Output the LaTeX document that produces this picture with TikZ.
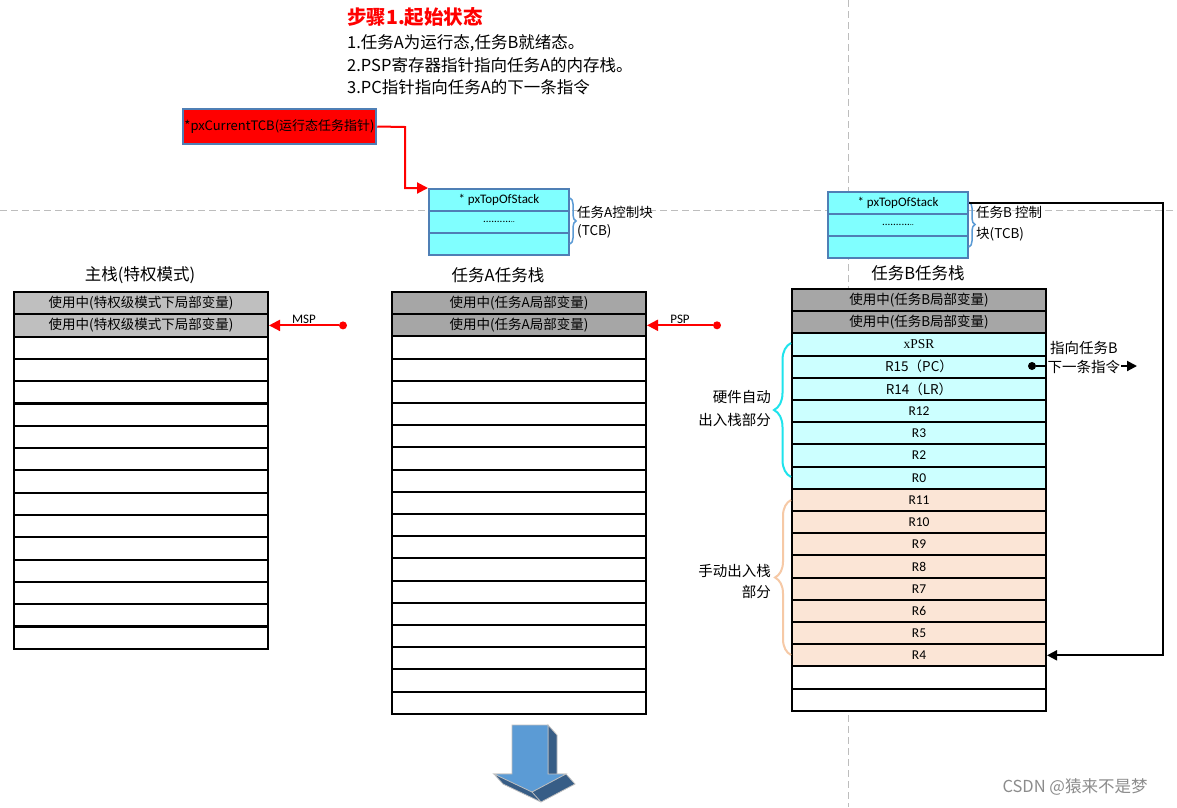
\documentclass[tikz,border=0pt]{standalone}
\usepackage{fontspec}
\setmainfont{Carlito}
\newfontfamily\cjk{Noto Sans CJK SC}
\newfontfamily\serifx{Liberation Serif}
\usetikzlibrary{arrows.meta,decorations.pathreplacing,calc}
\newcommand\myfs[1]{\fontsize{#1}{#1}\selectfont}
\definecolor{graymain}{HTML}{BFBFBF}
\definecolor{graydark}{HTML}{A6A6A6}
\definecolor{cyanrow}{HTML}{CCFFFF}
\definecolor{peachrow}{HTML}{FBE5D6}
\definecolor{tcbfill}{HTML}{80FFFF}
\definecolor{tcbline}{HTML}{4F7FB5}
\definecolor{bracecyan}{HTML}{1FE3EC}
\definecolor{bracepeach}{HTML}{F6C9A6}
\definecolor{bracetcb}{HTML}{5B9BD5}
\definecolor{dashgray}{HTML}{BDBDBD}
\definecolor{arrfront}{HTML}{5B9BD5}
\definecolor{arrdark}{HTML}{375D86}
\tikzset{
  cellbox/.style={draw=black, line width=2pt, minimum width=254pt, minimum height=22.2pt,
    inner sep=0pt, anchor=north west, font=\cjk\myfs{13.5}},
  tcbbox/.style={draw=tcbline, line width=2pt, fill=tcbfill, minimum width=140pt,
    minimum height=22pt, inner sep=0pt, anchor=north west, font=\myfs{13}},
  stacktitle/.style={inner sep=0pt, font=\cjk\myfs{16.5}},
  redarrow/.style={draw=red, line width=2pt, -{Triangle[length=11pt,width=11pt]}},
  blackarrow/.style={draw=black, line width=2pt, -{Triangle[length=10pt,width=10pt]}},
  dotnode/.style={circle, fill=#1, inner sep=0pt, minimum size=8pt},
  dashline/.style={draw=dashgray, line width=1pt, dash pattern=on 7pt off 4pt},
  bracestyle/.style={decorate, decoration={brace, amplitude=#1, aspect=0.5}}
}
\begin{document}
\begin{tikzpicture}[x=1pt,y=-1pt]
\useasboundingbox[fill=white] (0,0) rectangle (1177,807);
% guide lines
\draw[dashline] (0,210) -- (1177,210);
\draw[dashline] (848,0) -- (848,807);

% title
\node[inner sep=0pt, anchor=west, text=red, font=\cjk\bfseries\myfs{19.5}] (title) at (347,17) {步骤1.起始状态};
\node[inner sep=0pt, anchor=west, font=\cjk\myfs{16.5}] (l1) at (347,43) {1.任务A为运行态,任务B就绪态。};
\node[inner sep=0pt, anchor=west, font=\cjk\myfs{16.5}] (l2) at (347,65) {2.PSP寄存器指针指向任务A的内存栈。};
\node[inner sep=0pt, anchor=west, font=\cjk\myfs{16.5}] (l3) at (347,87) {3.PC指针指向任务A的下一条指令};

% current TCB pointer
\node[draw=tcbline, line width=2.5pt, fill=red, minimum width=193pt, minimum height=35pt,
  inner sep=0pt, font=\cjk\myfs{13}] (cur) at (279.5,126.5) {*pxCurrentTCB(运行态任务指针)};

% TCB A
\node[tcbbox] (ta1) at (428,188) {* pxTopOfStack};
\node[tcbbox] (ta2) at (428,210) {\myfs{11}..........{\myfs{8}..}};
\node[tcbbox] (ta3) at (428,232) {};
\draw[bracestyle=6pt, draw=bracetcb, line width=1.5pt] (570,198) -- (570,244);
\node[inner sep=0pt, anchor=west, align=left, font=\cjk\fontsize{13.5}{18}\selectfont] (talbl) at (577,222) {任务A控制块\\(TCB)};

% TCB B
\node[tcbbox] (tb1) at (827,191) {* pxTopOfStack};
\node[tcbbox] (tb2) at (827,213) {\myfs{11}..........{\myfs{8}..}};
\node[tcbbox] (tb3) at (827,235) {};
\draw[bracestyle=6pt, draw=bracetcb, line width=1.5pt] (969,202) -- (969,247);
\node[inner sep=0pt, anchor=west, align=left, font=\cjk\fontsize{13.5}{21}\selectfont] (tblbl) at (976,224) {任务B 控制\\块(TCB)};

% red pointer arrow
\coordinate (bend) at (405,127);
\draw[redarrow] (cur.east) -- (bend) |- (ta1.north west);

% stack titles
\node[stacktitle] (mtitle) at (140,275) {主栈(特权模式)};
\node[stacktitle] (atitle) at (498,275) {任务A任务栈};
\node[stacktitle] (btitle) at (918,273) {任务B任务栈};

% main stack
\node[cellbox, fill=graymain] (m1) at (13,291) {使用中(特权级模式下局部变量)};
\node[cellbox, fill=graymain] (m2) at (13,313.3) {使用中(特权级模式下局部变量)};
\foreach \i in {3,...,16} \node[cellbox, fill=white] (m\i) at (13,{291+(\i-1)*22.3}) {};

% task A stack
\node[cellbox, fill=graydark] (a1) at (391,291) {使用中(任务A局部变量)};
\node[cellbox, fill=graydark] (a2) at (391,313.2) {使用中(任务A局部变量)};
\foreach \i in {3,...,19} \node[cellbox, fill=white] (a\i) at (391,{291+(\i-1)*22.2}) {};

% task B stack
\node[cellbox, fill=graydark] (b1) at (791,288) {使用中(任务B局部变量)};
\node[cellbox, fill=graydark] (b2) at (791,310.2) {使用中(任务B局部变量)};
\foreach \i/\t in {3/{\serifx xPSR},4/{R15（PC）},5/{R14（LR）},6/{\rmfamily R12},7/{\rmfamily R3},8/{\rmfamily R2},9/{\rmfamily R0}}
  \node[cellbox, fill=cyanrow] (b\i) at (791,{288+(\i-1)*22.2}) {\t};
\foreach \i/\t in {10/R11,11/R10,12/R9,13/R8,14/R7,15/R6,16/R5,17/R4}
  \node[cellbox, fill=peachrow] (b\i) at (791,{288+(\i-1)*22.2}) {\rmfamily\t};
\foreach \i in {18,19} \node[cellbox, fill=white] (b\i) at (791,{288+(\i-1)*22.2}) {};

% MSP / PSP pointers
\node[dotnode=red] (mspdot) at ($(m2.east)+(74,0)$) {};
\draw[redarrow] (mspdot) -- (m2.east);
\node[inner sep=0pt, font=\myfs{13}] (msplbl) at (304,319) {MSP};
\node[dotnode=red] (pspdot) at ($(a2.east)+(70,0)$) {};
\draw[redarrow] (pspdot) -- (a2.east);
\node[inner sep=0pt, font=\myfs{13}] (psplbl) at (680,319) {PSP};

% braces for task B stack
\draw[bracestyle=17pt, draw=bracecyan, line width=2pt] (791,477) -- (791,343);
\node[inner sep=0pt, anchor=east, align=right, font=\cjk\fontsize{14.5}{23}\selectfont] (hwlbl) at (771,408) {硬件自动\\出入栈部分};
\draw[bracestyle=16pt, draw=bracepeach, line width=2pt] (791,655) -- (791,500);
\node[inner sep=0pt, anchor=east, align=right, font=\cjk\fontsize{14.5}{21}\selectfont] (swlbl) at (771,581) {手动出入栈\\部分};

% TCB B -> R4
\coordinate (rside) at (1163,400);
\draw[blackarrow] (tb1.east) -| (rside) |- (b17.east);

% PC pointer
\node[dotnode=black] (pcdot) at (1032,366) {};
\coordinate (pcend) at (1137,366);
\draw[blackarrow] (pcdot) -- (pcend);
\node[inner sep=0pt, anchor=west, font=\cjk\myfs{14.5}] (pclbl1) at (1050,348) {指向任务B};
\node[inner sep=0.5pt, anchor=west, fill=white, font=\cjk\myfs{14.5}] (pclbl2) at (1047,367) {下一条指令};

% 3D down arrow
\fill[arrdark, draw=graymain, line width=0.8pt] (548,725) -- (557,735) -- (557,774) -- (566,774) -- (575,784)
  -- (541,802) -- (503,784) -- (494,774) -- (548,774) -- cycle;
\fill[arrfront, draw=graymain, line width=0.8pt] (512,725) -- (548,725) -- (548,774) -- (566,774)
  -- (532,792) -- (494,774) -- (512,774) -- cycle;
\draw[graymain, line width=0.8pt] (532,792) -- (541,802);

% watermark
\node[inner sep=0pt, text=black!45, font=\cjk\myfs{16.5}] (wm) at (1075,787) {CSDN @猿来不是梦};
\end{tikzpicture}
\end{document}
